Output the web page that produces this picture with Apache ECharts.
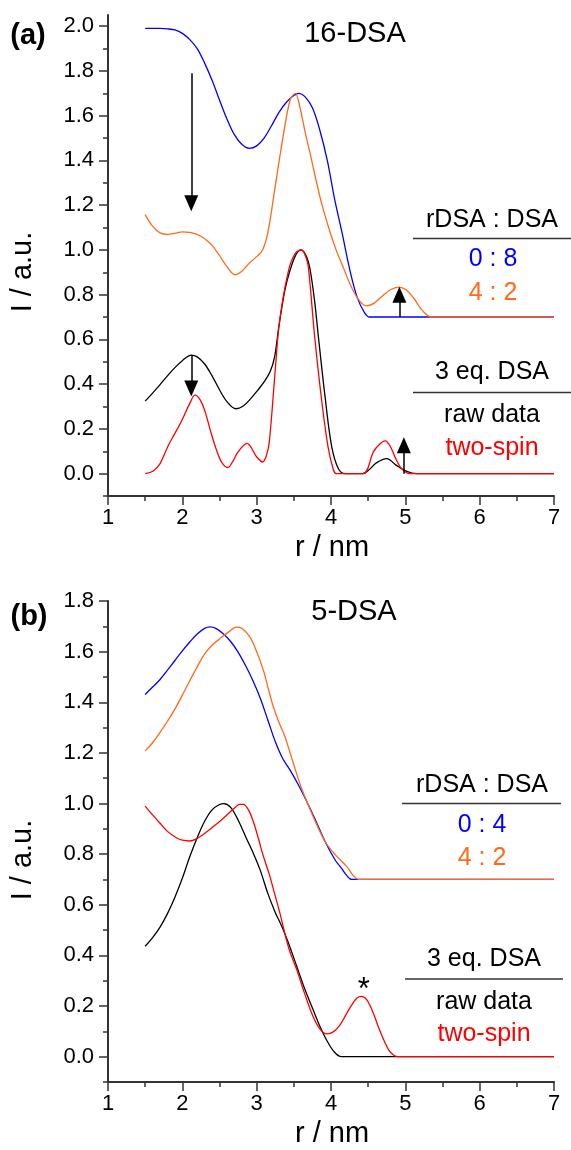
<!DOCTYPE html>
<html><head><meta charset="utf-8">
<script src="https://cdn.jsdelivr.net/npm/echarts@6/dist/echarts.min.js"></script>
<style>html,body{margin:0;padding:0;background:#fff;}#c{width:571px;height:1150px;}</style>
</head><body><div id="c"></div>
<script>
// ---------- Panel (a) 16-DSA : [r (nm), I (a.u.)] ----------
const a_blue_0_8 = [[1.5,1.99],[1.6,1.99],[1.7,1.99],[1.8,1.988],[1.9,1.983],[2.0,1.968],[2.1,1.94],[2.2,1.9],[2.3,1.835],[2.4,1.758],[2.5,1.67],[2.6,1.585],[2.7,1.515],[2.8,1.472],[2.9,1.454],[3.0,1.465],[3.1,1.5],[3.2,1.555],[3.3,1.615],[3.4,1.66],[3.5,1.69],[3.57,1.70],[3.65,1.685],[3.75,1.635],[3.85,1.535],[3.95,1.4],[4.05,1.225],[4.15,1.075],[4.25,0.915],[4.35,0.79],[4.45,0.72],[4.52,0.70],[7,0.70]];
const a_orange_4_2 = [[1.5,1.158],[1.6,1.106],[1.7,1.076],[1.8,1.069],[1.9,1.074],[2.0,1.081],[2.1,1.078],[2.2,1.069],[2.3,1.05],[2.4,1.02],[2.5,0.975],[2.6,0.925],[2.71,0.889],[2.8,0.905],[2.9,0.94],[3.0,0.97],[3.08,1.0],[3.15,1.077],[3.25,1.285],[3.35,1.495],[3.45,1.67],[3.52,1.70],[3.58,1.64],[3.65,1.53],[3.72,1.43],[3.8,1.31],[3.88,1.2],[3.99,1.077],[4.08,0.99],[4.16,0.926],[4.28,0.83],[4.39,0.77],[4.48,0.75],[4.57,0.76],[4.66,0.785],[4.8,0.822],[4.91,0.834],[5.01,0.822],[5.11,0.785],[5.24,0.725],[5.35,0.70],[7,0.70]];
const a_black_raw = [[1.5,0.324],[1.6,0.36],[1.7,0.398],[1.8,0.437],[1.9,0.474],[2.0,0.505],[2.12,0.53],[2.2,0.522],[2.3,0.49],[2.4,0.437],[2.5,0.375],[2.6,0.322],[2.72,0.29],[2.82,0.302],[2.92,0.335],[3.02,0.375],[3.1,0.41],[3.18,0.455],[3.24,0.52],[3.3,0.66],[3.38,0.82],[3.45,0.91],[3.53,0.98],[3.6,1.0],[3.67,0.97],[3.72,0.91],[3.78,0.77],[3.83,0.613],[3.92,0.344],[4.01,0.12],[4.1,0.022],[4.19,0.0],[4.43,0.0],[4.52,0.02],[4.61,0.048],[4.75,0.067],[4.88,0.037],[5.02,0.01],[5.15,0.0],[7,0]];
const a_red_twospin = [[1.5,0.0],[1.61,0.012],[1.7,0.045],[1.81,0.125],[1.9,0.18],[1.99,0.235],[2.1,0.314],[2.17,0.351],[2.24,0.33],[2.3,0.284],[2.38,0.19],[2.46,0.105],[2.53,0.05],[2.61,0.027],[2.68,0.055],[2.75,0.097],[2.87,0.135],[3.0,0.075],[3.08,0.052],[3.13,0.08],[3.17,0.142],[3.25,0.463],[3.31,0.687],[3.43,0.91],[3.52,0.985],[3.6,1.0],[3.67,0.96],[3.7,0.91],[3.78,0.613],[3.87,0.34],[3.96,0.12],[4.03,0.02],[4.07,0.0],[4.43,0.0],[4.57,0.097],[4.65,0.13],[4.73,0.146],[4.8,0.12],[4.86,0.075],[4.93,0.03],[5.0,0.007],[5.05,0],[7,0]];
// arrows: [r, I start, I head centre]
const a_arrows = [[2.12,1.79,1.208],[2.12,0.53,0.381],[4.92,0.70,0.80],[4.98,0.0,0.127]];

// ---------- Panel (b) 5-DSA ----------
const b_blue_0_4 = [[1.5,1.431],[1.6,1.46],[1.7,1.49],[1.8,1.527],[1.9,1.565],[2.0,1.603],[2.1,1.638],[2.2,1.67],[2.3,1.692],[2.37,1.698],[2.45,1.692],[2.55,1.671],[2.65,1.64],[2.75,1.598],[2.85,1.545],[2.95,1.485],[3.05,1.415],[3.15,1.33],[3.25,1.245],[3.35,1.178],[3.45,1.132],[3.58,1.063],[3.76,0.955],[3.92,0.85],[4.06,0.775],[4.14,0.745],[4.2,0.72],[4.28,0.70],[7,0.70]];
const b_orange_4_2 = [[1.5,1.208],[1.6,1.24],[1.7,1.281],[1.8,1.325],[1.9,1.373],[2.0,1.428],[2.1,1.485],[2.2,1.54],[2.3,1.591],[2.4,1.625],[2.5,1.65],[2.62,1.677],[2.73,1.697],[2.8,1.692],[2.91,1.657],[3.0,1.6],[3.09,1.527],[3.16,1.45],[3.22,1.386],[3.3,1.32],[3.38,1.265],[3.45,1.2],[3.6,1.063],[3.78,0.935],[3.92,0.85],[4.05,0.8],[4.21,0.752],[4.3,0.715],[4.37,0.70],[7,0.70]];
const b_black_raw = [[1.5,0.436],[1.6,0.47],[1.7,0.512],[1.8,0.565],[1.9,0.63],[2.0,0.705],[2.1,0.79],[2.2,0.865],[2.3,0.93],[2.4,0.975],[2.5,0.996],[2.56,1.0],[2.65,0.985],[2.75,0.935],[2.85,0.87],[2.96,0.8],[3.05,0.735],[3.15,0.645],[3.25,0.57],[3.33,0.52],[3.42,0.455],[3.54,0.356],[3.65,0.265],[3.76,0.185],[3.85,0.12],[3.94,0.066],[4.04,0.02],[4.14,0],[7,0]];
const b_red_twospin = [[1.5,0.99],[1.6,0.955],[1.7,0.922],[1.8,0.89],[1.92,0.865],[2.0,0.855],[2.1,0.852],[2.2,0.862],[2.28,0.878],[2.4,0.905],[2.51,0.931],[2.61,0.958],[2.71,0.984],[2.77,0.997],[2.82,0.997],[2.89,0.975],[2.96,0.924],[3.03,0.855],[3.09,0.792],[3.17,0.72],[3.24,0.645],[3.31,0.57],[3.43,0.43],[3.54,0.343],[3.65,0.245],[3.76,0.158],[3.85,0.11],[3.94,0.09],[4.03,0.098],[4.12,0.125],[4.2,0.165],[4.28,0.205],[4.35,0.232],[4.41,0.238],[4.48,0.225],[4.57,0.172],[4.64,0.115],[4.71,0.066],[4.78,0.025],[4.84,0.007],[4.9,0],[7,0]];
const b_star = [4.44, 0.26];

// ---------- axes ----------
const xRange = [1, 7];
const a_yRange = [-0.1, 2.05];
const b_yRange = [-0.1, 1.8];
const a_yMajor = [0,0.2,0.4,0.6,0.8,1.0,1.2,1.4,1.6,1.8,2.0];
const a_yMinor = [-0.1,0.1,0.3,0.5,0.7,0.9,1.1,1.3,1.5,1.7,1.9];
const b_yMajor = [0,0.2,0.4,0.6,0.8,1.0,1.2,1.4,1.6,1.8];
const b_yMinor = [-0.1,0.1,0.3,0.5,0.7,0.9,1.1,1.3,1.5,1.7];

const FONT = "'Liberation Sans', Arial, sans-serif";
const AX = '#333';
const BLUE = '#0000ff', ORANGE = '#ff6a1a', RED = '#ff0000', BLACK = '#000000';

function xAxis(grid){
  return {type:'value', gridIndex:grid, min:xRange[0], max:xRange[1], interval:1, position:'bottom',
    axisLine:{show:true, onZero:false, lineStyle:{color:AX,width:2}},
    axisTick:{show:true, length:9, lineStyle:{color:AX,width:1.5}},
    minorTick:{show:true, splitNumber:2, length:5, lineStyle:{color:AX,width:1.5}},
    axisLabel:{fontSize:22, fontFamily:FONT, color:'#000', margin:11},
    splitLine:{show:false}};
}
function yMajorAxis(grid, range, major){
  return {type:'value', gridIndex:grid, min:range[0], max:range[1], position:'left',
    axisLine:{show:true, onZero:false, lineStyle:{color:AX,width:2}},
    axisTick:{show:true, length:9, lineStyle:{color:AX,width:1.5}, customValues:major},
    axisLabel:{fontSize:22, fontFamily:FONT, color:'#000', margin:14, customValues:major, formatter:v=>v.toFixed(1)},
    splitLine:{show:false}};
}
function yMinorAxis(grid, range, minor){
  return {type:'value', gridIndex:grid, min:range[0], max:range[1], position:'left',
    axisLine:{show:false},
    axisTick:{show:true, length:5, lineStyle:{color:AX,width:1.5}, customValues:minor},
    axisLabel:{show:false, customValues:minor},
    splitLine:{show:false}};
}
function line(data, color, xi, yi, z, extra){
  return Object.assign({type:'line', data:data, xAxisIndex:xi, yAxisIndex:yi, showSymbol:false, symbol:'none',
    smooth:0.35, z:z, lineStyle:{color:color, width:1.3}, itemStyle:{color:color}, silent:true, animation:false}, extra||{});
}
const arrowShafts = {
  silent:true, symbol:['none','none'], animation:false,
  lineStyle:{color:'#000', width:1.5, type:'solid', opacity:1}, label:{show:false}, emphasis:{disabled:true},
  data: a_arrows.map(a => [{coord:[a[0],a[1]]},{coord:[a[0],a[2]]}])
};
const arrowHeads = {
  type:'scatter', xAxisIndex:0, yAxisIndex:0, silent:true, animation:false, z:5,
  symbol:'triangle', symbolSize:[14,16], itemStyle:{color:'#000', opacity:1},
  data: a_arrows.map(a => ({value:[a[0],a[2]], symbolRotate: a[2] < a[1] ? 180 : 0}))
};

function txt(text, x, y, size, color, extra){
  return Object.assign({type:'text', x:x, y:y, silent:true,
    style:{text:text, fontSize:size, fontFamily:FONT, fill:color, align:'center', verticalAlign:'middle'}}, extra||{});
}
function bold(text, x, y){
  return {type:'text', x:x, y:y, silent:true,
    style:{text:text, fontSize:29, fontWeight:'bold', fontFamily:FONT, fill:'#000', align:'center', verticalAlign:'middle'}};
}
function hline(x1,x2,y){
  return {type:'line', silent:true, shape:{x1:x1,y1:y,x2:x2,y2:y}, style:{stroke:'#333', lineWidth:1.5}};
}

const chart = echarts.init(document.getElementById('c'), null, {renderer:'canvas'});
chart.setOption({
  animation:false,
  backgroundColor:'#fff',
  grid:[
    {left:108, top:15, width:446, height:481},
    {left:108, top:601, width:446, height:481}
  ],
  xAxis:[xAxis(0), xAxis(1)],
  yAxis:[yMajorAxis(0,a_yRange,a_yMajor), yMinorAxis(0,a_yRange,a_yMinor),
         yMajorAxis(1,b_yRange,b_yMajor), yMinorAxis(1,b_yRange,b_yMinor)],
  series:[
    line(a_blue_0_8, BLUE, 0, 0, 2),
    line(a_orange_4_2, ORANGE, 0, 0, 3),
    line(a_black_raw, BLACK, 0, 0, 2, {markLine:arrowShafts}),
    line(a_red_twospin, RED, 0, 0, 3),
    arrowHeads,
    line(b_blue_0_4, BLUE, 1, 2, 2),
    line(b_orange_4_2, ORANGE, 1, 2, 3),
    line(b_black_raw, BLACK, 1, 2, 2),
    line(b_red_twospin, RED, 1, 2, 3, {markPoint:{silent:true, animation:false, symbol:'circle', symbolSize:1,
      itemStyle:{color:'rgba(0,0,0,0)'},
      label:{show:true, position:'inside', formatter:'*', color:'#000', fontSize:31, fontFamily:FONT},
      data:[{coord:b_star}]}})
  ],
  graphic:[
    bold('(a)', 28, 36),
    txt('16-DSA', 355, 34, 29, '#000'),
    txt('I / a.u.', 23, 272, 29, '#000', {rotation:Math.PI/2}),
    txt('r / nm', 332, 548, 29, '#000'),
    txt('rDSA : DSA', 492, 220, 25, '#000'),
    hline(413, 571, 238.5),
    txt('0 : 8', 493, 259, 25, BLUE),
    txt('4 : 2', 493, 293, 25, ORANGE),
    txt('3 eq. DSA', 492, 372, 25, '#000'),
    hline(413, 571, 392.5),
    txt('raw data', 492, 415, 25, '#000'),
    txt('two-spin', 492, 448, 25, RED),

    bold('(b)', 29, 617),
    txt('5-DSA', 354, 612, 29, '#000'),
    txt('I / a.u.', 23, 860, 29, '#000', {rotation:Math.PI/2}),
    txt('r / nm', 332, 1134, 29, '#000'),
    txt('rDSA : DSA', 482, 785, 25, '#000'),
    hline(402, 561, 803.5),
    txt('0 : 4', 482, 825, 25, BLUE),
    txt('4 : 2', 482, 858, 25, ORANGE),
    txt('3 eq. DSA', 484, 959, 25, '#000'),
    hline(405, 563, 979),
    txt('raw data', 484, 1002, 25, '#000'),
    txt('two-spin', 484, 1034, 25, RED)
  ]
});
</script></body></html>
